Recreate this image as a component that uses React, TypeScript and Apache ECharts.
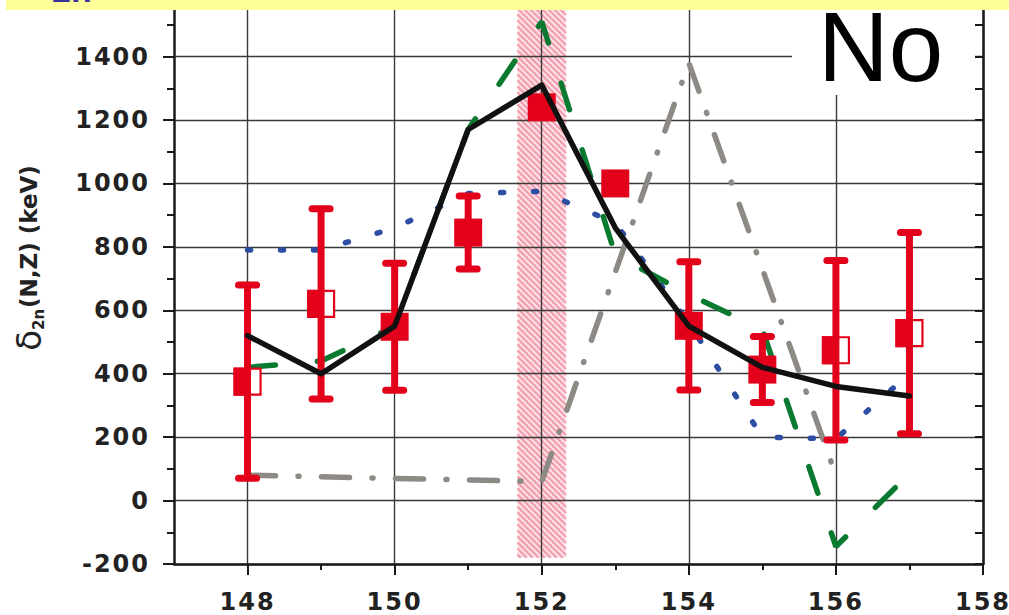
import React, { useEffect, useRef } from 'react';
import * as echarts from 'echarts';

// Neutron numbers N and the experimental δ2n values (keV) with their uncertainties
const neutronNumbers = [148, 149, 150, 151, 152, 153, 154, 155, 156, 157];
const expValues = [375, 620, 548, 845, 1240, 1000, 551, 413, 474, 528];
const expErrors = [305, 300, 200, 115, 0, 0, 202, 104, 283, 317];
// 'full' = measured (filled square), 'open' = partly extrapolated (half-filled square)
const expKinds = ['open', 'open', 'full', 'full', 'full', 'full', 'full', 'full', 'open', 'open'];

// Model calculations
const blackCalc = [520, 400, 550, 1170, 1310, 860, 550, 420, 360, 330];
const greenCalc = [420, 440, 550, 1170, 1510, 775, 650, 540, -145, 85];
const blueCalc = [790, 790, 860, 968, 975, 875, 560, 200, 195, 400];
const grayNumbers = [148, 149, 150, 151, 152, 153, 154, 155, 156];
const grayCalc = [80, 75, 70, 65, 60, 720, 1380, 730, 80];

// Shaded N = 152 shell-gap band
const shellGapBand = [151.67, 152.33];
const shellGapBandBottom = -180;

// Axes
const xMin = 147;
const xMax = 158;
const yMin = -200;
const yMax = 1550;
const xMajorTicks = [148, 150, 152, 154, 156, 158];
const xMinorTicks = [149, 151, 153, 155, 157];
const yMajorTicks = [-200, 0, 200, 400, 600, 800, 1000, 1200, 1400];
const yMinorTicks = [-100, 100, 300, 500, 700, 900, 1100, 1300, 1500];
const yRightTicks = [-200, -100, 0, 100, 200, 300, 400, 500, 600, 700, 800, 900, 1000, 1100, 1200, 1300, 1400, 1500];

const RED = '#e2001a';
const AXIS = '#1a1a1a';
const LABEL_FONT = 'DejaVu Sans';

const pairs = (xs: number[], ys: number[]) => xs.map((x, i) => [x, ys[i]]);

export default function App() {
  const ref = useRef<HTMLDivElement>(null);

  useEffect(() => {
    if (!ref.current) return;
    const chart = echarts.init(ref.current, null, { renderer: 'svg' });

    const labelStyle = {
      fontFamily: LABEL_FONT,
      fontWeight: 'bold' as const,
      fontSize: 24,
      lineHeight: 20,
      color: '#222',
      formatter: (v: number) => String(v),
    };

    const option: any = {
      animation: false,
      backgroundColor: '#ffffff',
      grid: { left: 174, right: 26, top: 9, bottom: 51, containLabel: false, outerBoundsMode: 'none' },
      xAxis: [
        {
          type: 'value',
          min: xMin,
          max: xMax,
          position: 'bottom',
          axisLine: { show: true, onZero: false, lineStyle: { color: AXIS, width: 2.5 } },
          axisTick: { show: true, customValues: xMajorTicks, length: 11, lineStyle: { color: AXIS, width: 2 } },
          axisLabel: { ...labelStyle, customValues: xMajorTicks, margin: 28 },
          splitLine: { show: true, lineStyle: { color: '#3a3a3a', width: 1.4 } },
        },
        {
          type: 'value',
          min: xMin,
          max: xMax,
          position: 'bottom',
          axisLine: { show: false, onZero: false },
          axisTick: { show: true, customValues: xMinorTicks, length: 6, lineStyle: { color: AXIS, width: 2 } },
          axisLabel: { show: false },
          splitLine: { show: false },
        },
      ],
      yAxis: [
        {
          type: 'value',
          min: yMin,
          max: yMax,
          position: 'left',
          axisLine: { show: true, onZero: false, lineStyle: { color: AXIS, width: 2.5 } },
          axisTick: { show: true, customValues: yMajorTicks, length: 11, lineStyle: { color: AXIS, width: 2 } },
          axisLabel: { ...labelStyle, customValues: yMajorTicks, margin: 24 },
          splitLine: { show: true, lineStyle: { color: '#3a3a3a', width: 1.4 } },
        },
        {
          type: 'value',
          min: yMin,
          max: yMax,
          position: 'left',
          axisLine: { show: false, onZero: false },
          axisTick: { show: true, customValues: yMinorTicks, length: 7, lineStyle: { color: AXIS, width: 2 } },
          axisLabel: { show: false },
          splitLine: { show: false },
        },
        {
          type: 'value',
          min: yMin,
          max: yMax,
          position: 'right',
          axisLine: { show: true, onZero: false, lineStyle: { color: AXIS, width: 2.5 } },
          axisTick: { show: true, inside: true, customValues: yRightTicks, length: 8, lineStyle: { color: AXIS, width: 2 } },
          axisLabel: { show: false },
          splitLine: { show: false },
        },
      ],
      series: [
        {
          name: 'band',
          type: 'custom',
          z: -1,
          silent: true,
          data: [[shellGapBand[0], shellGapBand[1], shellGapBandBottom, yMax]],
          encode: { x: [0, 1], y: [2, 3] },
          renderItem: (params: any, api: any) => {
            const p0 = api.coord([api.value(0), api.value(3)]);
            const p1 = api.coord([api.value(1), api.value(2)]);
            const left = p0[0];
            const right = p1[0];
            const top = p0[1];
            const bottom = p1[1];
            const children: any[] = [
              {
                type: 'rect',
                shape: { x: left, y: top, width: right - left, height: bottom - top },
                style: { fill: '#fde6ea' },
              },
            ];
            const step = 6;
            for (let c = top - right; c <= bottom - left; c += step) {
              const xa = Math.max(left, top - c);
              const xb = Math.min(right, bottom - c);
              if (xb <= xa) continue;
              children.push({
                type: 'line',
                shape: { x1: xa, y1: xa + c, x2: xb, y2: xb + c },
                style: { stroke: '#f4a0b0', lineWidth: 2.4 },
              });
            }
            return { type: 'group', children };
          },
        },
        {
          name: 'blue',
          type: 'line',
          z: 3,
          symbol: 'none',
          data: pairs(neutronNumbers, blueCalc),
          lineStyle: { color: '#2c4ea3', width: 5.5, type: [3, 30], cap: 'round' },
        },
        {
          name: 'gray',
          type: 'line',
          z: 3,
          symbol: 'none',
          data: pairs(grayNumbers, grayCalc),
          lineStyle: { color: '#8d8985', width: 5.5, type: [28, 22.5, 1, 22.5], cap: 'round' },
        },
        {
          name: 'green',
          type: 'line',
          z: 3,
          symbol: 'none',
          data: pairs(neutronNumbers, greenCalc),
          lineStyle: { color: '#0b7a31', width: 5.5, type: [28, 42], cap: 'round' },
        },
        {
          name: 'experiment',
          type: 'custom',
          z: 4,
          data: neutronNumbers.map((n, i) => [n, expValues[i], expErrors[i]]),
          encode: { x: 0, y: 1 },
          renderItem: (params: any, api: any) => {
            const x = api.value(0);
            const y = api.value(1);
            const err = api.value(2);
            const kind = expKinds[params.dataIndex];
            const c = api.coord([x, y]);
            const h = 14;
            const children: any[] = [];
            if (kind === 'full') {
              children.push({
                type: 'rect',
                shape: { x: c[0] - h, y: c[1] - h, width: 2 * h, height: 2 * h },
                style: { fill: RED },
              });
            } else {
              children.push({
                type: 'rect',
                shape: { x: c[0] - h + 1, y: c[1] - h + 1, width: 2 * h - 2, height: 2 * h - 2 },
                style: { fill: '#ffffff', stroke: RED, lineWidth: 2.2 },
              });
              children.push({
                type: 'rect',
                shape: { x: c[0] - h, y: c[1] - h, width: h, height: 2 * h },
                style: { fill: RED },
              });
            }
            if (err > 0) {
              const t = api.coord([x, y + err]);
              const b = api.coord([x, y - err]);
              children.push({
                type: 'line',
                shape: { x1: c[0], y1: t[1], x2: c[0], y2: b[1] },
                style: { stroke: RED, lineWidth: 7 },
              });
              [t[1], b[1]].forEach((yy) =>
                children.push({
                  type: 'line',
                  shape: { x1: c[0] - 9, y1: yy, x2: c[0] + 9, y2: yy },
                  style: { stroke: RED, lineWidth: 7, lineCap: 'round' },
                })
              );
            }
            return { type: 'group', children };
          },
        },
        {
          name: 'black',
          type: 'line',
          z: 5,
          symbol: 'none',
          data: pairs(neutronNumbers, blackCalc),
          lineStyle: { color: '#111111', width: 5.5, cap: 'round', join: 'round' },
        },
      ],
      graphic: [
        {
          type: 'rect',
          z: 20,
          shape: { x: 6, y: 0, width: 1003, height: 10 },
          style: { fill: '#ffff99' },
        },
        {
          type: 'text',
          z: 21,
          x: 52,
          y: 7,
          style: {
            text: '2n',
            fontFamily: 'Liberation Sans',
            fontWeight: 'bold',
            fontSize: 34,
            fill: '#3b3399',
            align: 'left',
            verticalAlign: 'bottom',
          },
        },
        {
          type: 'rect',
          z: 20,
          shape: { x: 792, y: 10, width: 183, height: 85 },
          style: { fill: '#ffffff' },
        },
        {
          type: 'text',
          z: 21,
          x: 818,
          y: 47,
          style: {
            text: 'No',
            fontFamily: 'Liberation Sans',
            fontSize: 98,
            lineHeight: 76,
            fill: '#000000',
            align: 'left',
            verticalAlign: 'middle',
          },
        },
        {
          type: 'text',
          z: 21,
          x: 29,
          y: 258,
          rotation: Math.PI / 2,
          style: {
            text: '{d|δ}{s|2n}{b|(N,Z) (keV)}',
            align: 'center',
            verticalAlign: 'middle',
            fill: '#222',
            rich: {
              d: { fontFamily: LABEL_FONT, fontSize: 34, fill: '#222', verticalAlign: 'middle' },
              s: { fontFamily: LABEL_FONT, fontWeight: 'bold', fontSize: 15, fill: '#222', verticalAlign: 'bottom', padding: [0, 1, 0, 0] },
              b: { fontFamily: LABEL_FONT, fontWeight: 'bold', fontSize: 23, fill: '#222', verticalAlign: 'middle' },
            },
          },
        },
      ],
    };

    chart.setOption(option);
    return () => chart.dispose();
  }, []);

  return (
    <>
      <style>{'.delta-chart text[style*="24px"] { letter-spacing: 2px; }'}</style>
      <div
        ref={ref}
        className="delta-chart"
        style={{ position: 'fixed', left: 0, top: 0, width: 1009, height: 615, background: '#fff' }}
      />
    </>
  );
}
